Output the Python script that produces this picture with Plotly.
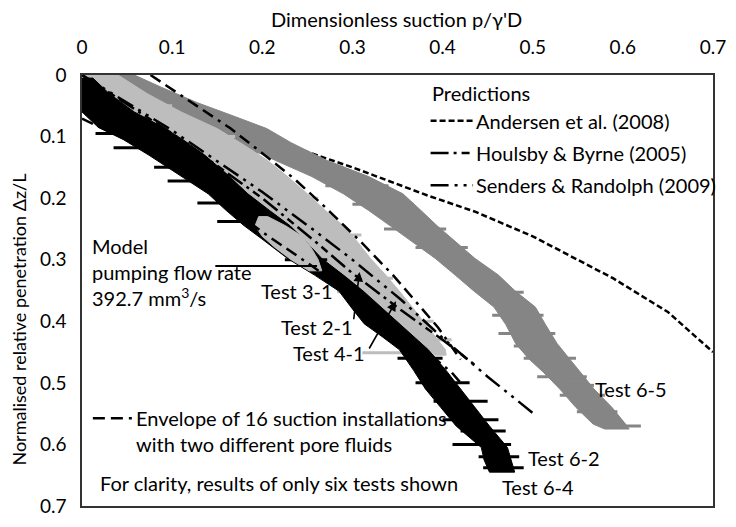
import plotly.graph_objects as go

# ---------------- data ----------------
x_ticks = [0, 0.1, 0.2, 0.3, 0.4, 0.5, 0.6, 0.7]
x_tick_labels = ["0", "0.1", "0.2", "0.3", "0.4", "0.5", "0.6", "0.7"]
y_ticks = [0, 0.1, 0.2, 0.3, 0.4, 0.5, 0.6, 0.7]
y_tick_labels = ["0", "0.1", "0.2", "0.3", "0.4", "0.5", "0.6", "0.7"]

# Test 6-5 band (dark grey): depth, min and max suction
t65_depth = [0.000, 0.020, 0.045, 0.065, 0.087, 0.110, 0.139, 0.165, 0.193, 0.220, 0.245, 0.270,
             0.298, 0.325, 0.350, 0.377, 0.405, 0.436, 0.460, 0.483, 0.510, 0.540, 0.567, 0.575]
t65_min = [0.015, 0.035, 0.068, 0.100, 0.140, 0.172, 0.215, 0.255, 0.290, 0.318, 0.342, 0.366,
           0.392, 0.414, 0.434, 0.457, 0.470, 0.481, 0.495, 0.512, 0.530, 0.548, 0.567, 0.580]
t65_max = [0.058, 0.088, 0.128, 0.165, 0.205, 0.232, 0.272, 0.318, 0.356, 0.376, 0.394, 0.414,
           0.436, 0.462, 0.480, 0.503, 0.514, 0.527, 0.540, 0.553, 0.568, 0.588, 0.603, 0.607]

# Tests 2-1, 3-1, 4-1 band (light grey)
tlg_depth = [0.000, 0.030, 0.060, 0.087, 0.114, 0.139, 0.165, 0.193, 0.220, 0.245, 0.270,
             0.298, 0.325, 0.351, 0.380, 0.404, 0.425, 0.446, 0.455]
tlg_min = [0.000, 0.020, 0.050, 0.085, 0.115, 0.143, 0.163, 0.184, 0.205, 0.225, 0.245,
           0.262, 0.280, 0.297, 0.320, 0.341, 0.352, 0.363, 0.372]
tlg_max = [0.040, 0.072, 0.110, 0.150, 0.180, 0.206, 0.228, 0.250, 0.270, 0.290, 0.305,
           0.320, 0.337, 0.352, 0.368, 0.381, 0.392, 0.403, 0.404]

# Test 3-1 loop left of the main band (light grey)
t31_depth = [0.230, 0.245, 0.262, 0.280, 0.300, 0.318]
t31_min = [0.196, 0.192, 0.200, 0.214, 0.232, 0.252]
t31_max = [0.206, 0.226, 0.244, 0.254, 0.262, 0.266]

# Tests 6-2, 6-4 band (black)
t6_depth = [0.005, 0.030, 0.060, 0.085, 0.105, 0.130, 0.160, 0.193, 0.220, 0.245, 0.270,
            0.298, 0.325, 0.351, 0.380, 0.404, 0.425, 0.446, 0.480, 0.510, 0.540, 0.570,
            0.605, 0.625, 0.645]
t6_min = [0.000, 0.000, 0.000, 0.018, 0.046, 0.074, 0.106, 0.140, 0.160, 0.180, 0.203,
          0.228, 0.258, 0.285, 0.300, 0.313, 0.333, 0.352, 0.368, 0.381, 0.398, 0.415,
          0.443, 0.446, 0.452]
t6_max = [0.012, 0.030, 0.058, 0.090, 0.112, 0.136, 0.160, 0.184, 0.208, 0.231, 0.248,
          0.266, 0.290, 0.312, 0.333, 0.352, 0.368, 0.384, 0.404, 0.421, 0.436, 0.452,
          0.472, 0.476, 0.480]

# horizontal noise spikes: depth, from, to
t65_spk_depth = [0.030, 0.060, 0.097, 0.125, 0.143, 0.180, 0.210, 0.250, 0.280, 0.312, 0.333,
                 0.353, 0.390, 0.420, 0.440, 0.460, 0.490, 0.504, 0.520, 0.547, 0.570]
t65_spk_from = [0.050, 0.090, 0.150, 0.190, 0.230, 0.270, 0.300, 0.335, 0.370, 0.406, 0.430,
                0.448, 0.455, 0.462, 0.479, 0.490, 0.505, 0.534, 0.530, 0.549, 0.580]
t65_spk_to = [0.100, 0.150, 0.215, 0.240, 0.272, 0.340, 0.368, 0.404, 0.428, 0.444, 0.466,
              0.490, 0.512, 0.525, 0.528, 0.548, 0.560, 0.568, 0.580, 0.594, 0.620]

tlg_spk_depth = [0.050, 0.100, 0.200, 0.260, 0.330, 0.352, 0.400, 0.430, 0.451]
tlg_spk_from = [0.035, 0.090, 0.180, 0.230, 0.270, 0.283, 0.330, 0.345, 0.311]
tlg_spk_to = [0.100, 0.170, 0.262, 0.310, 0.345, 0.299, 0.390, 0.410, 0.400]

t6_spk_depth = [0.075, 0.095, 0.118, 0.150, 0.172, 0.208, 0.238, 0.300,
                0.460, 0.500, 0.530, 0.560, 0.578, 0.600, 0.620, 0.638]
t6_spk_from = [0.020, 0.015, 0.035, 0.080, 0.095, 0.128, 0.150, 0.225,
               0.350, 0.370, 0.390, 0.400, 0.420, 0.411, 0.440, 0.445]
t6_spk_to = [0.070, 0.060, 0.100, 0.130, 0.150, 0.180, 0.200, 0.272,
             0.400, 0.430, 0.450, 0.462, 0.470, 0.476, 0.485, 0.490]

# predictions
andersen_x = [0.0, 0.1, 0.2, 0.23, 0.3, 0.384, 0.436, 0.5, 0.589, 0.65, 0.7]
andersen_y = [0.0, 0.050, 0.100, 0.115, 0.150, 0.196, 0.222, 0.262, 0.330, 0.385, 0.450]
houlsby_x = [0.0, 0.1, 0.2, 0.26, 0.3, 0.355, 0.40, 0.435]
houlsby_y = [0.0, 0.095, 0.200, 0.272, 0.322, 0.383, 0.430, 0.470]
senders_x = [0.0, 0.1, 0.2, 0.26, 0.3, 0.354, 0.403, 0.45, 0.501]
senders_y = [0.0, 0.090, 0.190, 0.255, 0.300, 0.365, 0.431, 0.490, 0.550]

# envelope of 16 installations
env_upper_x = [0.076, 0.120, 0.165, 0.200, 0.235, 0.270, 0.310, 0.345, 0.370, 0.395, 0.420]
env_upper_y = [0.000, 0.043, 0.087, 0.127, 0.168, 0.215, 0.272, 0.325, 0.368, 0.410, 0.462]
env_lower_x = [0.000, 0.050, 0.100, 0.150, 0.200, 0.250, 0.300, 0.350, 0.410, 0.420]
env_lower_y = [0.071, 0.105, 0.148, 0.200, 0.255, 0.305, 0.357, 0.410, 0.483, 0.500]

# ---------------- style ----------------
FONT = "Lato"
FS = 20
LG = "#bdbdbd"
DG = "#858585"
DASH_ANDERSEN = "6px,3px"
DASH_ENV = "12px,6px,12px,6px,3px,6px"
DASH_HOULSBY = "18px,5px,3px,5px,8px,5px"
DASH_SENDERS = "18px,6px,3px,6px,3px,6px"

W, H = 736, 527
L, R, T, B = 82, 15, 75, 10
PW, PH = W - L - R, H - T - B


def px(xp):
    return (xp - L) / PW


def py(yp):
    return 1 - (yp - T) / PH


fig = go.Figure()


def curve(x, y, dash, width=2.5):
    fig.add_trace(go.Scatter(x=x, y=y, mode="lines", line=dict(color="black", width=width, dash=dash),
                             hoverinfo="skip", showlegend=False))


def band(depth, lo, hi, color):
    xs = list(lo) + list(hi)[::-1] + [lo[0]]
    ys = list(depth) + list(depth)[::-1] + [depth[0]]
    fig.add_trace(go.Scatter(x=xs, y=ys, mode="lines", fill="toself", fillcolor=color,
                             line=dict(color=color, width=1), hoverinfo="skip", showlegend=False))


def spikes(depth, a, b, color):
    xs, ys = [], []
    for d, s, e in zip(depth, a, b):
        xs += [s, e, None]
        ys += [d, d, None]
    fig.add_trace(go.Scatter(x=xs, y=ys, mode="lines", line=dict(color=color, width=3),
                             hoverinfo="skip", showlegend=False))


# Andersen lies beneath the test data
curve(andersen_x, andersen_y, DASH_ANDERSEN)

band(t65_depth, t65_min, t65_max, DG)
spikes(t65_spk_depth, t65_spk_from, t65_spk_to, DG)
band(tlg_depth, tlg_min, tlg_max, LG)
spikes(tlg_spk_depth, tlg_spk_from, tlg_spk_to, LG)
band(t6_depth, t6_min, t6_max, "#000000")
spikes(t6_spk_depth, t6_spk_from, t6_spk_to, "#000000")
band(t31_depth, t31_min, t31_max, LG)

curve(houlsby_x, houlsby_y, DASH_HOULSBY)
curve(senders_x, senders_y, DASH_SENDERS)
curve(env_upper_x, env_upper_y, DASH_ENV)
curve(env_lower_x, env_lower_y, DASH_ENV)

ann = []
shapes = []


def text(s, xp, yp, anchor="left", size=FS):
    ann.append(dict(text=s, x=px(xp), y=py(yp), xref="paper", yref="paper", showarrow=False,
                    xanchor=anchor, yanchor="middle", font=dict(family=FONT, size=size, color="black")))


def seg(x0, y0, x1, y1, dash="solid", width=2.5):
    shapes.append(dict(type="line", xref="paper", yref="paper", x0=px(x0), y0=py(y0), x1=px(x1), y1=py(y1),
                       line=dict(color="black", width=width, dash=dash)))


# legend (predictions)
text("Predictions", 434, 93)
seg(435, 122, 478, 122, DASH_ANDERSEN)
text("Andersen et al. (2008)", 479, 122)
seg(435, 155, 478, 155, DASH_HOULSBY)
text("Houlsby &amp; Byrne (2005)", 479, 155)
seg(435, 188, 478, 188, DASH_SENDERS)
text("Senders &amp; Randolph (2009)", 479, 188)

# envelope legend
seg(93, 427, 133, 427, DASH_ENV)
text("Envelope of 16 suction installations", 135, 427)
text("with two different pore fluids", 135, 453)
text("For clarity, results of only six tests shown", 98, 493)

# model text
text("Model", 90, 250)
text("pumping flow rate", 90, 277)
text("392.7 mm<sup>3</sup>/s", 90, 303)
seg(217, 271, 320, 271, "solid", 2)

# test labels
text("Test 3-1", 261, 297)
text("Test 2-1", 281, 333)
text("Test 4-1", 294, 360)
text("Test 6-5", 599, 397)
text("Test 6-2", 532, 468)
text("Test 6-4", 505, 498)


def arrow(x0, y0, x1, y1):
    ann.append(dict(text="", x=px(x1), y=py(y1), ax=px(x0), ay=py(y0), xref="x domain", yref="y domain",
                    axref="x domain", ayref="y domain", showarrow=True, arrowhead=2, arrowsize=1.2,
                    arrowwidth=1.6, arrowcolor="black"))


arrow(357, 327, 363, 277)
arrow(372, 357, 400, 307)

# axis titles
text("Dimensionless suction p/γ'D", 400, 18, anchor="center")
ann.append(dict(text="Normalised relative penetration Δz/L", x=px(18), y=py(326), xref="paper",
                yref="paper", showarrow=False, xanchor="center", yanchor="middle", textangle=-90,
                font=dict(family=FONT, size=18, color="black")))

fig.update_layout(
    width=W, height=H, margin=dict(l=L, r=R, t=T, b=B),
    paper_bgcolor="white", plot_bgcolor="white",
    annotations=ann, shapes=shapes, showlegend=False,
    xaxis=dict(range=[0, 0.7], side="top", tickvals=x_ticks, ticktext=x_tick_labels,
               showgrid=False, zeroline=False, showline=True, mirror=True, linecolor="#333333",
               linewidth=1.5, ticks="", ticklabelstandoff=12,
               tickfont=dict(family=FONT, size=19, color="black")),
    yaxis=dict(range=[0.7, 0], tickvals=y_ticks, ticktext=y_tick_labels,
               showgrid=False, zeroline=False, showline=True, mirror=True, linecolor="#333333",
               linewidth=1.5, ticks="", ticklabelstandoff=10,
               tickfont=dict(family=FONT, size=19, color="black")),
)

fig.write_html("out.html")
